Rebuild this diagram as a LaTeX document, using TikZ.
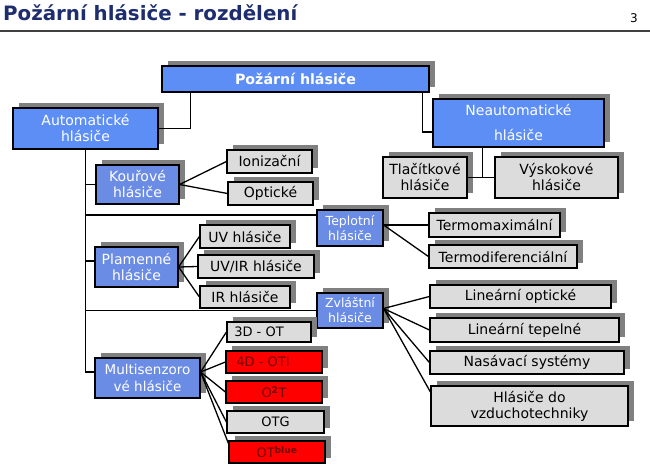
\documentclass[tikz,border=0pt]{standalone}
\usepackage{fontspec}
\setmainfont{DejaVu Sans}
\usetikzlibrary{shadows}

\definecolor{blueone}{RGB}{93,142,246}
\definecolor{bluetwo}{RGB}{107,140,228}
\definecolor{boxgray}{RGB}{220,220,220}
\definecolor{shadowgray}{RGB}{128,128,128}
\definecolor{redtext}{RGB}{115,0,0}
\definecolor{titlenavy}{RGB}{30,45,110}

\tikzset{
    box/.style={draw=black, line width=1.2pt, inner sep=0pt, align=center,
        font=\fontsize{14}{16}\selectfont,
        drop shadow={shadow xshift=6pt, shadow yshift=5pt, shadow scale=1,
            fill=shadowgray, opacity=1}},
    topbox/.style={box, fill=blueone, text=white},
    midbox/.style={box, fill=bluetwo, text=white},
    greybox/.style={box, fill=boxgray, text=black},
    redbox/.style={box, fill=red, text=redtext},
    wh/.style 2 args={minimum width=#1pt, minimum height=#2pt},
    link/.style={line width=1.3pt, black}
}

\begin{document}
\begin{tikzpicture}[x=1pt, y=-1pt]
        \useasboundingbox (0,0) rectangle (650,465);
        % ── titulek ──────────────────────────
        \node[anchor=base west, text=titlenavy, font=\fontsize{19.8}{22}\selectfont\bfseries, inner sep=0pt] (title) at (3,21) {Požární hlásiče - rozdělení};
        \node[font=\fontsize{12}{14}\selectfont, inner sep=0pt] (page) at (634,18) {3};
        \draw[black!75, line width=1.5pt] (0,31) -- (650,31);
        % ── horni uroven ──────────────────────────
        \node[topbox, wh={267}{26}, font=\fontsize{14.2}{16}\selectfont\bfseries] (root) at (295.5,79) {Požární hlásiče};
        \node[topbox, wh={145}{41}] (auto) at (85.5,128.5) {Automatické\\hlásiče};
        \node[topbox, wh={171}{48}] (neauto) at (518.5,123) {Neautomatické\\[9pt]hlásiče};
        % ── neautomaticke ──────────────────────────
        \node[greybox, wh={84}{41}] (tlac) at (425,177.5) {Tlačítkové\\hlásiče};
        \node[greybox, wh={123}{41}] (vysk) at (556.5,177.5) {Výskokové\\hlásiče};
        % ── automaticke ──────────────────────────
        \node[midbox, wh={83}{39}] (kour) at (137.5,184.5) {Kouřové\\hlásiče};
        \node[greybox, wh={85}{23}] (ion) at (269.5,161.5) {Ionizační};
        \node[greybox, wh={85}{23}] (opt) at (270.5,193.5) {Optické};
        \node[midbox, wh={83}{40}] (plam) at (136.5,267) {Plamenné\\hlásiče};
        \node[greybox, wh={90}{23}] (uv) at (245,236.5) {UV hlásiče};
        \node[greybox, wh={116}{23}] (uvir) at (256,266.5) {UV/IR hlásiče};
        \node[greybox, wh={90}{22}] (ir) at (245,297) {IR hlásiče};
        \node[midbox, wh={66}{36}, font=\fontsize{12.5}{15}\selectfont] (tepl) at (350,228) {Teplotní\\hlásiče};
        \node[greybox, wh={131}{24}] (tmax) at (494.5,225) {Termomaximální};
        \node[greybox, wh={148}{23}] (tdif) at (503,256.5) {Termodiferenciální};
        \node[midbox, wh={66}{35}, font=\fontsize{12.5}{15}\selectfont] (zvl) at (350,310.5) {Zvláštní\\hlásiče};
        \node[greybox, wh={181}{23}] (linopt) at (520.5,296.5) {Lineární optické};
        \node[greybox, wh={189}{24}] (lintep) at (524.5,330) {Lineární tepelné};
        \node[greybox, wh={194}{23}] (nasav) at (527,362.5) {Nasávací systémy};
        \node[greybox, wh={197}{40}] (vzduch) at (529.5,406) {Hlásiče do\\vzduchotechniky};
        \node[midbox, wh={105}{40}, font=\fontsize{13.5}{17}\selectfont] (multi) at (147.5,378) {Multisenzoro\\vé hlásiče};
        \node[greybox, wh={84}{20}, font=\fontsize{13}{15}\selectfont] (dtri) at (269,332) {3D - OT\hspace*{20pt}};
        \node[redbox, wh={96}{22}, font=\fontsize{13}{15}\selectfont] (dctyr) at (274,362) {4D - OTI\hspace*{22pt}};
        \node[redbox, wh={96}{22}, font=\fontsize{13}{15}\selectfont] (odva) at (274,392) {O\textsuperscript{\bfseries 2}T};
        \node[greybox, wh={97}{22}, font=\fontsize{13}{15}\selectfont] (otg) at (275.5,422) {OTG};
        \node[redbox, wh={96}{22}, font=\fontsize{13}{15}\selectfont] (otb) at (277,452) {OT\textsuperscript{\bfseries blue}};
        % ── spojnice ──────────────────────────
        \draw[link] ([xshift=29pt]root.south west) |- (auto.east);
        \draw[link] ([xshift=-7pt]root.south east) |- ([yshift=-9pt]neauto.west);
        \draw[link] (tlac.east) -- (vysk.west);
        \draw[link] ([xshift=-36pt]neauto.south) -- ([xshift=-36pt]neauto.south |- tlac.east);
        \draw[link] (auto.south) |- ([yshift=6pt]multi.west);
        \draw[link] (auto.south |- kour.west) -- (kour.west);
        \draw[link] ([yshift=13pt]tepl.west -| auto.south) -- ([yshift=13pt]tepl.west);
        \draw[link] ([yshift=6pt]plam.west -| auto.south) -- ([yshift=6pt]plam.west);
        \draw[link] (auto.south |- zvl.west) -- (zvl.west);
        \foreach \t in {ion, opt}
            \draw[link] (kour.east) -- (\t.west);
        \foreach \t in {uv, uvir, ir}
            \draw[link] (plam.east) -- (\t.west);
        \foreach \t in {tmax, tdif}
            \draw[link] ([yshift=3pt]tepl.east) -- (\t.west);
        \foreach \t in {linopt, lintep, nasav}
            \draw[link] ([yshift=2pt]zvl.east) -- (\t.west);
        \draw[link] ([yshift=2pt]zvl.east) -- ([yshift=14pt]vzduch.west);
        \foreach \t in {dtri, dctyr, odva, otg}
            \draw[link] ([yshift=6pt]multi.east) -- (\t.west);
        \draw[link] ([yshift=6pt]multi.east) -- ([yshift=-3pt]otb.north west);
    \end{tikzpicture}
\end{document}
